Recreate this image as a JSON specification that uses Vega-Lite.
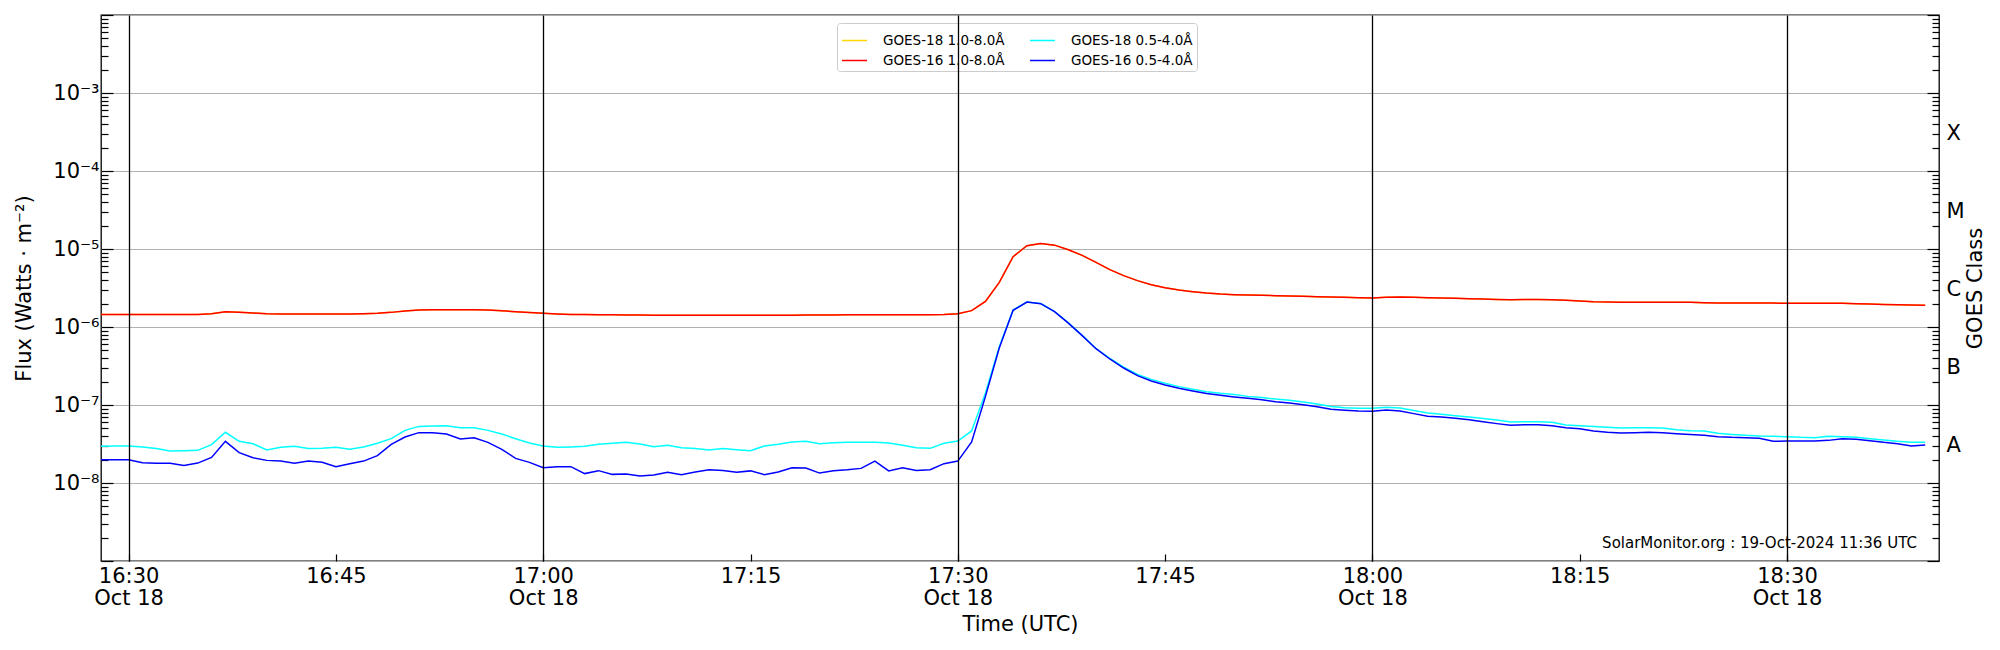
{
"$schema": "https://vega.github.io/schema/vega-lite/v6.json",
"width": 1838,
"height": 546,
"autosize": {"type": "none"},
"padding": {"left": 101, "top": 15, "right": 61, "bottom": 89},
"background": "white",
"config": {
  "font": "DejaVu Sans",
  "view": {"stroke": "black", "strokeWidth": 1.3},
  "axis": {"labelFont": "DejaVu Sans", "titleFont": "DejaVu Sans", "labelFontSize": 21, "titleFontSize": 21, "titleFontWeight": "normal", "labelColor": "black", "titleColor": "black", "domain": false, "tickColor": "black", "tickWidth": 1.2}
},
"datasets": {
"goes": [
{"t":"2024-10-18T16:28:00Z","g18l":1.45e-6,"g16l":1.45e-6,"g18s":2.95e-8,"g16s":1.99e-8},
{"t":"2024-10-18T16:29:00Z","g18l":1.45e-6,"g16l":1.45e-6,"g18s":2.98e-8,"g16s":1.99e-8},
{"t":"2024-10-18T16:30:00Z","g18l":1.45e-6,"g16l":1.45e-6,"g18s":2.98e-8,"g16s":1.99e-8},
{"t":"2024-10-18T16:31:00Z","g18l":1.45e-6,"g16l":1.45e-6,"g18s":2.90e-8,"g16s":1.82e-8},
{"t":"2024-10-18T16:32:00Z","g18l":1.45e-6,"g16l":1.45e-6,"g18s":2.76e-8,"g16s":1.79e-8},
{"t":"2024-10-18T16:33:00Z","g18l":1.45e-6,"g16l":1.45e-6,"g18s":2.57e-8,"g16s":1.79e-8},
{"t":"2024-10-18T16:34:00Z","g18l":1.45e-6,"g16l":1.45e-6,"g18s":2.60e-8,"g16s":1.68e-8},
{"t":"2024-10-18T16:35:00Z","g18l":1.45e-6,"g16l":1.45e-6,"g18s":2.62e-8,"g16s":1.80e-8},
{"t":"2024-10-18T16:36:00Z","g18l":1.48e-6,"g16l":1.48e-6,"g18s":3.10e-8,"g16s":2.13e-8},
{"t":"2024-10-18T16:37:00Z","g18l":1.57e-6,"g16l":1.57e-6,"g18s":4.47e-8,"g16s":3.42e-8},
{"t":"2024-10-18T16:38:00Z","g18l":1.54e-6,"g16l":1.54e-6,"g18s":3.42e-8,"g16s":2.45e-8},
{"t":"2024-10-18T16:39:00Z","g18l":1.51e-6,"g16l":1.51e-6,"g18s":3.19e-8,"g16s":2.11e-8},
{"t":"2024-10-18T16:40:00Z","g18l":1.48e-6,"g16l":1.48e-6,"g18s":2.65e-8,"g16s":1.95e-8},
{"t":"2024-10-18T16:41:00Z","g18l":1.47e-6,"g16l":1.47e-6,"g18s":2.87e-8,"g16s":1.91e-8},
{"t":"2024-10-18T16:42:00Z","g18l":1.47e-6,"g16l":1.47e-6,"g18s":2.95e-8,"g16s":1.79e-8},
{"t":"2024-10-18T16:43:00Z","g18l":1.47e-6,"g16l":1.47e-6,"g18s":2.76e-8,"g16s":1.91e-8},
{"t":"2024-10-18T16:44:00Z","g18l":1.47e-6,"g16l":1.47e-6,"g18s":2.78e-8,"g16s":1.84e-8},
{"t":"2024-10-18T16:45:00Z","g18l":1.47e-6,"g16l":1.47e-6,"g18s":2.87e-8,"g16s":1.62e-8},
{"t":"2024-10-18T16:46:00Z","g18l":1.47e-6,"g16l":1.47e-6,"g18s":2.70e-8,"g16s":1.77e-8},
{"t":"2024-10-18T16:47:00Z","g18l":1.48e-6,"g16l":1.48e-6,"g18s":2.90e-8,"g16s":1.91e-8},
{"t":"2024-10-18T16:48:00Z","g18l":1.50e-6,"g16l":1.50e-6,"g18s":3.23e-8,"g16s":2.24e-8},
{"t":"2024-10-18T16:49:00Z","g18l":1.54e-6,"g16l":1.54e-6,"g18s":3.70e-8,"g16s":3.13e-8},
{"t":"2024-10-18T16:50:00Z","g18l":1.60e-6,"g16l":1.60e-6,"g18s":4.73e-8,"g16s":3.89e-8},
{"t":"2024-10-18T16:51:00Z","g18l":1.65e-6,"g16l":1.65e-6,"g18s":5.32e-8,"g16s":4.42e-8},
{"t":"2024-10-18T16:52:00Z","g18l":1.67e-6,"g16l":1.67e-6,"g18s":5.38e-8,"g16s":4.42e-8},
{"t":"2024-10-18T16:53:00Z","g18l":1.67e-6,"g16l":1.67e-6,"g18s":5.43e-8,"g16s":4.25e-8},
{"t":"2024-10-18T16:54:00Z","g18l":1.67e-6,"g16l":1.67e-6,"g18s":5.12e-8,"g16s":3.66e-8},
{"t":"2024-10-18T16:55:00Z","g18l":1.67e-6,"g16l":1.67e-6,"g18s":5.12e-8,"g16s":3.81e-8},
{"t":"2024-10-18T16:56:00Z","g18l":1.65e-6,"g16l":1.65e-6,"g18s":4.73e-8,"g16s":3.32e-8},
{"t":"2024-10-18T16:57:00Z","g18l":1.62e-6,"g16l":1.62e-6,"g18s":4.25e-8,"g16s":2.70e-8},
{"t":"2024-10-18T16:58:00Z","g18l":1.57e-6,"g16l":1.57e-6,"g18s":3.70e-8,"g16s":2.07e-8},
{"t":"2024-10-18T16:59:00Z","g18l":1.53e-6,"g16l":1.53e-6,"g18s":3.26e-8,"g16s":1.84e-8},
{"t":"2024-10-18T17:00:00Z","g18l":1.50e-6,"g16l":1.50e-6,"g18s":2.98e-8,"g16s":1.57e-8},
{"t":"2024-10-18T17:01:00Z","g18l":1.47e-6,"g16l":1.47e-6,"g18s":2.87e-8,"g16s":1.62e-8},
{"t":"2024-10-18T17:02:00Z","g18l":1.45e-6,"g16l":1.45e-6,"g18s":2.90e-8,"g16s":1.62e-8},
{"t":"2024-10-18T17:03:00Z","g18l":1.45e-6,"g16l":1.45e-6,"g18s":2.95e-8,"g16s":1.32e-8},
{"t":"2024-10-18T17:04:00Z","g18l":1.44e-6,"g16l":1.44e-6,"g18s":3.13e-8,"g16s":1.44e-8},
{"t":"2024-10-18T17:05:00Z","g18l":1.44e-6,"g16l":1.44e-6,"g18s":3.23e-8,"g16s":1.29e-8},
{"t":"2024-10-18T17:06:00Z","g18l":1.43e-6,"g16l":1.43e-6,"g18s":3.32e-8,"g16s":1.30e-8},
{"t":"2024-10-18T17:07:00Z","g18l":1.43e-6,"g16l":1.43e-6,"g18s":3.16e-8,"g16s":1.23e-8},
{"t":"2024-10-18T17:08:00Z","g18l":1.41e-6,"g16l":1.41e-6,"g18s":2.92e-8,"g16s":1.27e-8},
{"t":"2024-10-18T17:09:00Z","g18l":1.41e-6,"g16l":1.41e-6,"g18s":3.04e-8,"g16s":1.37e-8},
{"t":"2024-10-18T17:10:00Z","g18l":1.41e-6,"g16l":1.41e-6,"g18s":2.84e-8,"g16s":1.28e-8},
{"t":"2024-10-18T17:11:00Z","g18l":1.41e-6,"g16l":1.41e-6,"g18s":2.76e-8,"g16s":1.38e-8},
{"t":"2024-10-18T17:12:00Z","g18l":1.41e-6,"g16l":1.41e-6,"g18s":2.65e-8,"g16s":1.48e-8},
{"t":"2024-10-18T17:13:00Z","g18l":1.41e-6,"g16l":1.41e-6,"g18s":2.76e-8,"g16s":1.45e-8},
{"t":"2024-10-18T17:14:00Z","g18l":1.41e-6,"g16l":1.41e-6,"g18s":2.67e-8,"g16s":1.37e-8},
{"t":"2024-10-18T17:15:00Z","g18l":1.41e-6,"g16l":1.41e-6,"g18s":2.60e-8,"g16s":1.43e-8},
{"t":"2024-10-18T17:16:00Z","g18l":1.41e-6,"g16l":1.41e-6,"g18s":2.98e-8,"g16s":1.28e-8},
{"t":"2024-10-18T17:17:00Z","g18l":1.41e-6,"g16l":1.41e-6,"g18s":3.13e-8,"g16s":1.38e-8},
{"t":"2024-10-18T17:18:00Z","g18l":1.41e-6,"g16l":1.41e-6,"g18s":3.36e-8,"g16s":1.57e-8},
{"t":"2024-10-18T17:19:00Z","g18l":1.42e-6,"g16l":1.42e-6,"g18s":3.42e-8,"g16s":1.56e-8},
{"t":"2024-10-18T17:20:00Z","g18l":1.43e-6,"g16l":1.43e-6,"g18s":3.19e-8,"g16s":1.34e-8},
{"t":"2024-10-18T17:21:00Z","g18l":1.43e-6,"g16l":1.43e-6,"g18s":3.29e-8,"g16s":1.44e-8},
{"t":"2024-10-18T17:22:00Z","g18l":1.44e-6,"g16l":1.44e-6,"g18s":3.32e-8,"g16s":1.48e-8},
{"t":"2024-10-18T17:23:00Z","g18l":1.44e-6,"g16l":1.44e-6,"g18s":3.32e-8,"g16s":1.54e-8},
{"t":"2024-10-18T17:24:00Z","g18l":1.44e-6,"g16l":1.44e-6,"g18s":3.32e-8,"g16s":1.91e-8},
{"t":"2024-10-18T17:25:00Z","g18l":1.44e-6,"g16l":1.44e-6,"g18s":3.26e-8,"g16s":1.43e-8},
{"t":"2024-10-18T17:26:00Z","g18l":1.44e-6,"g16l":1.44e-6,"g18s":3.04e-8,"g16s":1.57e-8},
{"t":"2024-10-18T17:27:00Z","g18l":1.44e-6,"g16l":1.44e-6,"g18s":2.84e-8,"g16s":1.45e-8},
{"t":"2024-10-18T17:28:00Z","g18l":1.44e-6,"g16l":1.44e-6,"g18s":2.78e-8,"g16s":1.48e-8},
{"t":"2024-10-18T17:29:00Z","g18l":1.45e-6,"g16l":1.45e-6,"g18s":3.23e-8,"g16s":1.77e-8},
{"t":"2024-10-18T17:30:00Z","g18l":1.48e-6,"g16l":1.48e-6,"g18s":3.45e-8,"g16s":1.91e-8},
{"t":"2024-10-18T17:31:00Z","g18l":1.62e-6,"g16l":1.62e-6,"g18s":4.65e-8,"g16s":3.36e-8},
{"t":"2024-10-18T17:32:00Z","g18l":2.13e-6,"g16l":2.13e-6,"g18s":1.43e-7,"g16s":1.29e-7},
{"t":"2024-10-18T17:33:00Z","g18l":3.74e-6,"g16l":3.74e-6,"g18s":5.6e-7,"g16s":5.38e-7},
{"t":"2024-10-18T17:34:00Z","g18l":7.97e-6,"g16l":7.97e-6,"g18s":1.65e-6,"g16s":1.64e-6},
{"t":"2024-10-18T17:35:00Z","g18l":1.10e-5,"g16l":1.10e-5,"g18s":2.09e-6,"g16s":2.09e-6},
{"t":"2024-10-18T17:36:00Z","g18l":1.18e-5,"g16l":1.18e-5,"g18s":2.0e-6,"g16s":1.99e-6},
{"t":"2024-10-18T17:37:00Z","g18l":1.12e-5,"g16l":1.12e-5,"g18s":1.58e-6,"g16s":1.57e-6},
{"t":"2024-10-18T17:38:00Z","g18l":9.8e-6,"g16l":9.8e-6,"g18s":1.13e-6,"g16s":1.12e-6},
{"t":"2024-10-18T17:39:00Z","g18l":8.30e-6,"g16l":8.30e-6,"g18s":7.8e-7,"g16s":7.74e-7},
{"t":"2024-10-18T17:40:00Z","g18l":6.75e-6,"g16l":6.75e-6,"g18s":5.3e-7,"g16s":5.27e-7},
{"t":"2024-10-18T17:41:00Z","g18l":5.43e-6,"g16l":5.43e-6,"g18s":3.95e-7,"g16s":3.89e-7},
{"t":"2024-10-18T17:42:00Z","g18l":4.55e-6,"g16l":4.55e-6,"g18s":3.05e-7,"g16s":2.98e-7},
{"t":"2024-10-18T17:43:00Z","g18l":3.93e-6,"g16l":3.93e-6,"g18s":2.47e-7,"g16s":2.38e-7},
{"t":"2024-10-18T17:44:00Z","g18l":3.49e-6,"g16l":3.49e-6,"g18s":2.13e-7,"g16s":2.03e-7},
{"t":"2024-10-18T17:45:00Z","g18l":3.19e-6,"g16l":3.19e-6,"g18s":1.90e-7,"g16s":1.80e-7},
{"t":"2024-10-18T17:46:00Z","g18l":2.98e-6,"g16l":2.98e-6,"g18s":1.72e-7,"g16s":1.64e-7},
{"t":"2024-10-18T17:47:00Z","g18l":2.84e-6,"g16l":2.84e-6,"g18s":1.59e-7,"g16s":1.51e-7},
{"t":"2024-10-18T17:48:00Z","g18l":2.73e-6,"g16l":2.73e-6,"g18s":1.48e-7,"g16s":1.40e-7},
{"t":"2024-10-18T17:49:00Z","g18l":2.65e-6,"g16l":2.65e-6,"g18s":1.41e-7,"g16s":1.33e-7},
{"t":"2024-10-18T17:50:00Z","g18l":2.60e-6,"g16l":2.60e-6,"g18s":1.36e-7,"g16s":1.27e-7},
{"t":"2024-10-18T17:51:00Z","g18l":2.57e-6,"g16l":2.57e-6,"g18s":1.29e-7,"g16s":1.22e-7},
{"t":"2024-10-18T17:52:00Z","g18l":2.55e-6,"g16l":2.55e-6,"g18s":1.25e-7,"g16s":1.17e-7},
{"t":"2024-10-18T17:53:00Z","g18l":2.52e-6,"g16l":2.52e-6,"g18s":1.19e-7,"g16s":1.10e-7},
{"t":"2024-10-18T17:54:00Z","g18l":2.50e-6,"g16l":2.50e-6,"g18s":1.15e-7,"g16s":1.06e-7},
{"t":"2024-10-18T17:55:00Z","g18l":2.47e-6,"g16l":2.47e-6,"g18s":1.09e-7,"g16s":1.01e-7},
{"t":"2024-10-18T17:56:00Z","g18l":2.45e-6,"g16l":2.45e-6,"g18s":1.03e-7,"g16s":9.5e-8},
{"t":"2024-10-18T17:57:00Z","g18l":2.42e-6,"g16l":2.42e-6,"g18s":9.6e-8,"g16s":8.8e-8},
{"t":"2024-10-18T17:58:00Z","g18l":2.40e-6,"g16l":2.40e-6,"g18s":9.25e-8,"g16s":8.55e-8},
{"t":"2024-10-18T17:59:00Z","g18l":2.38e-6,"g16l":2.38e-6,"g18s":9.06e-8,"g16s":8.38e-8},
{"t":"2024-10-18T18:00:00Z","g18l":2.36e-6,"g16l":2.36e-6,"g18s":9.06e-8,"g16s":8.30e-8},
{"t":"2024-10-18T18:01:00Z","g18l":2.40e-6,"g16l":2.40e-6,"g18s":9.33e-8,"g16s":8.63e-8},
{"t":"2024-10-18T18:02:00Z","g18l":2.42e-6,"g16l":2.42e-6,"g18s":9.15e-8,"g16s":8.38e-8},
{"t":"2024-10-18T18:03:00Z","g18l":2.40e-6,"g16l":2.40e-6,"g18s":8.5e-8,"g16s":7.75e-8},
{"t":"2024-10-18T18:04:00Z","g18l":2.38e-6,"g16l":2.38e-6,"g18s":7.9e-8,"g16s":7.16e-8},
{"t":"2024-10-18T18:05:00Z","g18l":2.35e-6,"g16l":2.35e-6,"g18s":7.6e-8,"g16s":7.02e-8},
{"t":"2024-10-18T18:06:00Z","g18l":2.33e-6,"g16l":2.33e-6,"g18s":7.3e-8,"g16s":6.75e-8},
{"t":"2024-10-18T18:07:00Z","g18l":2.31e-6,"g16l":2.31e-6,"g18s":7.0e-8,"g16s":6.49e-8},
{"t":"2024-10-18T18:08:00Z","g18l":2.29e-6,"g16l":2.29e-6,"g18s":6.7e-8,"g16s":6.1e-8},
{"t":"2024-10-18T18:09:00Z","g18l":2.26e-6,"g16l":2.26e-6,"g18s":6.4e-8,"g16s":5.77e-8},
{"t":"2024-10-18T18:10:00Z","g18l":2.24e-6,"g16l":2.24e-6,"g18s":6.05e-8,"g16s":5.49e-8},
{"t":"2024-10-18T18:11:00Z","g18l":2.26e-6,"g16l":2.26e-6,"g18s":6.1e-8,"g16s":5.6e-8},
{"t":"2024-10-18T18:12:00Z","g18l":2.26e-6,"g16l":2.26e-6,"g18s":6.1e-8,"g16s":5.6e-8},
{"t":"2024-10-18T18:13:00Z","g18l":2.24e-6,"g16l":2.24e-6,"g18s":6.0e-8,"g16s":5.43e-8},
{"t":"2024-10-18T18:14:00Z","g18l":2.20e-6,"g16l":2.20e-6,"g18s":5.55e-8,"g16s":5.12e-8},
{"t":"2024-10-18T18:15:00Z","g18l":2.15e-6,"g16l":2.15e-6,"g18s":5.4e-8,"g16s":4.97e-8},
{"t":"2024-10-18T18:16:00Z","g18l":2.11e-6,"g16l":2.11e-6,"g18s":5.3e-8,"g16s":4.65e-8},
{"t":"2024-10-18T18:17:00Z","g18l":2.09e-6,"g16l":2.09e-6,"g18s":5.17e-8,"g16s":4.47e-8},
{"t":"2024-10-18T18:18:00Z","g18l":2.08e-6,"g16l":2.08e-6,"g18s":5.07e-8,"g16s":4.38e-8},
{"t":"2024-10-18T18:19:00Z","g18l":2.08e-6,"g16l":2.08e-6,"g18s":5.12e-8,"g16s":4.42e-8},
{"t":"2024-10-18T18:20:00Z","g18l":2.08e-6,"g16l":2.08e-6,"g18s":5.12e-8,"g16s":4.47e-8},
{"t":"2024-10-18T18:21:00Z","g18l":2.08e-6,"g16l":2.08e-6,"g18s":5.07e-8,"g16s":4.42e-8},
{"t":"2024-10-18T18:22:00Z","g18l":2.08e-6,"g16l":2.08e-6,"g18s":4.83e-8,"g16s":4.29e-8},
{"t":"2024-10-18T18:23:00Z","g18l":2.08e-6,"g16l":2.08e-6,"g18s":4.69e-8,"g16s":4.2e-8},
{"t":"2024-10-18T18:24:00Z","g18l":2.05e-6,"g16l":2.05e-6,"g18s":4.65e-8,"g16s":4.08e-8},
{"t":"2024-10-18T18:25:00Z","g18l":2.03e-6,"g16l":2.03e-6,"g18s":4.33e-8,"g16s":3.93e-8},
{"t":"2024-10-18T18:26:00Z","g18l":2.03e-6,"g16l":2.03e-6,"g18s":4.2e-8,"g16s":3.85e-8},
{"t":"2024-10-18T18:27:00Z","g18l":2.03e-6,"g16l":2.03e-6,"g18s":4.08e-8,"g16s":3.81e-8},
{"t":"2024-10-18T18:28:00Z","g18l":2.03e-6,"g16l":2.03e-6,"g18s":4.0e-8,"g16s":3.74e-8},
{"t":"2024-10-18T18:29:00Z","g18l":2.03e-6,"g16l":2.03e-6,"g18s":3.97e-8,"g16s":3.42e-8},
{"t":"2024-10-18T18:30:00Z","g18l":2.01e-6,"g16l":2.01e-6,"g18s":3.93e-8,"g16s":3.45e-8},
{"t":"2024-10-18T18:31:00Z","g18l":2.01e-6,"g16l":2.01e-6,"g18s":3.85e-8,"g16s":3.45e-8},
{"t":"2024-10-18T18:32:00Z","g18l":2.01e-6,"g16l":2.01e-6,"g18s":3.81e-8,"g16s":3.45e-8},
{"t":"2024-10-18T18:33:00Z","g18l":2.01e-6,"g16l":2.01e-6,"g18s":3.97e-8,"g16s":3.52e-8},
{"t":"2024-10-18T18:34:00Z","g18l":2.01e-6,"g16l":2.01e-6,"g18s":3.93e-8,"g16s":3.7e-8},
{"t":"2024-10-18T18:35:00Z","g18l":1.99e-6,"g16l":1.99e-6,"g18s":3.85e-8,"g16s":3.63e-8},
{"t":"2024-10-18T18:36:00Z","g18l":1.97e-6,"g16l":1.97e-6,"g18s":3.7e-8,"g16s":3.49e-8},
{"t":"2024-10-18T18:37:00Z","g18l":1.95e-6,"g16l":1.95e-6,"g18s":3.56e-8,"g16s":3.32e-8},
{"t":"2024-10-18T18:38:00Z","g18l":1.93e-6,"g16l":1.93e-6,"g18s":3.42e-8,"g16s":3.19e-8},
{"t":"2024-10-18T18:39:00Z","g18l":1.92e-6,"g16l":1.92e-6,"g18s":3.32e-8,"g16s":2.98e-8},
{"t":"2024-10-18T18:40:00Z","g18l":1.90e-6,"g16l":1.90e-6,"g18s":3.32e-8,"g16s":3.07e-8}
],
"note": [
{"t":"2024-10-18T18:39:24Z","f":1.7e-9,"label":"SolarMonitor.org : 19-Oct-2024 11:36 UTC"}
]
},
"data": {"name": "goes"},
"encoding": {
  "x": {
    "field": "t", "type": "temporal",
    "scale": {"type": "utc", "domain": [{"year":2024,"month":10,"date":18,"hours":16,"minutes":28,"utc":true},{"year":2024,"month":10,"date":18,"hours":18,"minutes":41,"utc":true}]},
    "axis": {
      "title": "Time (UTC)",
      "titleX": 919, "titleY": 63, "titleAlign": "center", "titleBaseline": "middle", "titleAngle": 0,
      "values": [
        {"year":2024,"month":10,"date":18,"hours":16,"minutes":30,"utc":true},
        {"year":2024,"month":10,"date":18,"hours":16,"minutes":45,"utc":true},
        {"year":2024,"month":10,"date":18,"hours":17,"minutes":0,"utc":true},
        {"year":2024,"month":10,"date":18,"hours":17,"minutes":15,"utc":true},
        {"year":2024,"month":10,"date":18,"hours":17,"minutes":30,"utc":true},
        {"year":2024,"month":10,"date":18,"hours":17,"minutes":45,"utc":true},
        {"year":2024,"month":10,"date":18,"hours":18,"minutes":0,"utc":true},
        {"year":2024,"month":10,"date":18,"hours":18,"minutes":15,"utc":true},
        {"year":2024,"month":10,"date":18,"hours":18,"minutes":30,"utc":true}
      ],
      "labelExpr": "utcminutes(datum.value) % 30 == 0 ? [utcFormat(datum.value, '%H:%M'), utcFormat(datum.value, '%b %d')] : utcFormat(datum.value, '%H:%M')",
      "labelBaseline": "top", "labelLineHeight": 22, "labelPadding": 11,
      "labelOverlap": false, "labelFlush": false,
      "tickSize": -7,
      "grid": true, "gridColor": "black", "gridWidth": 1.3,
      "gridOpacity": {"condition": {"test": "utcminutes(datum.value) % 30 == 0", "value": 1}, "value": 0},
      "zindex": 1
    }
  }
},
"layer": [
  {
    "mark": {"type": "line", "strokeWidth": 1.5},
    "encoding": {
      "y": {
        "field": "g18l", "type": "quantitative",
        "scale": {"type": "log", "domain": [1e-9, 1e-2], "nice": false},
        "axis": {
          "orient": "left",
          "title": "Flux (Watts · m⁻²)",
          "titleX": -77, "titleY": 273, "titleAngle": -90, "titleAlign": "center", "titleBaseline": "middle",
          "values": [1e-9,2e-9,3e-9,4e-9,5e-9,6e-9,7e-9,8e-9,9e-9,1e-8,2e-8,3e-8,4e-8,5e-8,6e-8,7e-8,8e-8,9e-8,1e-7,2e-7,3e-7,4e-7,5e-7,6e-7,7e-7,8e-7,9e-7,1e-6,2e-6,3e-6,4e-6,5e-6,6e-6,7e-6,8e-6,9e-6,1e-5,2e-5,3e-5,4e-5,5e-5,6e-5,7e-5,8e-5,9e-5,1e-4,2e-4,3e-4,4e-4,5e-4,6e-4,7e-4,8e-4,9e-4,1e-3,2e-3,3e-3,4e-3,5e-3,6e-3,7e-3,8e-3,9e-3,1e-2],
          "labelExpr": "(abs(log(datum.value)/LN10 - round(log(datum.value)/LN10)) < 0.001 && round(log(datum.value)/LN10) >= -8 && round(log(datum.value)/LN10) <= -3) ? '10⁻' + ['⁰','¹','²','³','⁴','⁵','⁶','⁷','⁸','⁹'][-round(log(datum.value)/LN10)] : ''",
          "labelBaseline": "middle", "labelPadding": 14,
          "labelOverlap": false, "labelFlush": false,
          "tickSize": {"condition": {"test": "abs(log(datum.value)/LN10 - round(log(datum.value)/LN10)) < 0.001", "value": -12}, "value": -7},
          "grid": true, "gridColor": "#b0b0b0", "gridWidth": 1.2,
          "gridOpacity": {"condition": {"test": "abs(log(datum.value)/LN10 - round(log(datum.value)/LN10)) < 0.001", "value": 1}, "value": 0},
          "zindex": 0
        }
      },
      "color": {
        "datum": "GOES-18 1.0-8.0Å", "type": "nominal",
        "scale": {"domain": ["GOES-18 1.0-8.0Å","GOES-18 0.5-4.0Å","GOES-16 1.0-8.0Å","GOES-16 0.5-4.0Å"], "range": ["#ffd700","#00ffff","#ff0000","#0000ff"]},
        "legend": {
          "orient": "none", "legendX": 736, "legendY": 8, "columns": 2, "direction": "horizontal", "title": null,
          "symbolType": "stroke", "symbolSize": 625, "symbolStrokeWidth": 1.5,
          "labelFont": "DejaVu Sans", "labelFontSize": 13.5, "labelColor": "black", "labelLimit": 400, "labelOffset": 15,
          "padding": 4, "strokeColor": "#cccccc", "fillColor": "white", "cornerRadius": 3,
          "columnPadding": 22, "rowPadding": 0
        }
      }
    }
  },
  {
    "mark": {"type": "line", "strokeWidth": 1.5},
    "encoding": {
      "y": {"field": "g16l", "type": "quantitative", "scale": {"type": "log", "domain": [1e-9, 1e-2], "nice": false}, "axis": null},
      "color": {"datum": "GOES-16 1.0-8.0Å", "type": "nominal", "scale": {"domain": ["GOES-18 1.0-8.0Å","GOES-18 0.5-4.0Å","GOES-16 1.0-8.0Å","GOES-16 0.5-4.0Å"], "range": ["#ffd700","#00ffff","#ff0000","#0000ff"]}}
    }
  },
  {
    "mark": {"type": "line", "strokeWidth": 1.5},
    "encoding": {
      "y": {"field": "g18s", "type": "quantitative", "scale": {"type": "log", "domain": [1e-9, 1e-2], "nice": false}, "axis": null},
      "color": {"datum": "GOES-18 0.5-4.0Å", "type": "nominal", "scale": {"domain": ["GOES-18 1.0-8.0Å","GOES-18 0.5-4.0Å","GOES-16 1.0-8.0Å","GOES-16 0.5-4.0Å"], "range": ["#ffd700","#00ffff","#ff0000","#0000ff"]}}
    }
  },
  {
    "mark": {"type": "line", "strokeWidth": 1.5},
    "encoding": {
      "y": {
        "field": "g16s", "type": "quantitative",
        "scale": {"type": "log", "domain": [1e-9, 1e-2], "nice": false},
        "axis": {
          "orient": "right",
          "title": "GOES Class",
          "titleX": 36, "titleY": 273, "titleAngle": -90, "titleAlign": "center", "titleBaseline": "middle",
          "values": [1e-9,2e-9,3e-9,4e-9,5e-9,6e-9,7e-9,8e-9,9e-9,1e-8,2e-8,3e-8,4e-8,5e-8,6e-8,7e-8,8e-8,9e-8,1e-7,2e-7,3e-7,4e-7,5e-7,6e-7,7e-7,8e-7,9e-7,1e-6,2e-6,3e-6,4e-6,5e-6,6e-6,7e-6,8e-6,9e-6,1e-5,2e-5,3e-5,4e-5,5e-5,6e-5,7e-5,8e-5,9e-5,1e-4,2e-4,3e-4,4e-4,5e-4,6e-4,7e-4,8e-4,9e-4,1e-3,2e-3,3e-3,4e-3,5e-3,6e-3,7e-3,8e-3,9e-3,1e-2],
          "labelExpr": "abs(datum.value / pow(10, floor(log(datum.value)/LN10 + 0.000001)) - 3) < 0.01 ? ['A','B','C','M','X','',''][floor(log(datum.value)/LN10 + 0.000001) + 8] : ''",
          "labelBaseline": "middle", "labelPadding": 14,
          "labelOverlap": false, "labelFlush": false,
          "tickSize": {"condition": {"test": "abs(log(datum.value)/LN10 - round(log(datum.value)/LN10)) < 0.001", "value": -12}, "value": -7},
          "grid": false
        }
      },
      "color": {"datum": "GOES-16 0.5-4.0Å", "type": "nominal", "scale": {"domain": ["GOES-18 1.0-8.0Å","GOES-18 0.5-4.0Å","GOES-16 1.0-8.0Å","GOES-16 0.5-4.0Å"], "range": ["#ffd700","#00ffff","#ff0000","#0000ff"]}}
    }
  },
  {
    "data": {"name": "note"},
    "mark": {"type": "text", "align": "right", "baseline": "middle", "fontSize": 15, "font": "DejaVu Sans", "color": "black"},
    "encoding": {
      "y": {"field": "f", "type": "quantitative", "scale": {"type": "log", "domain": [1e-9, 1e-2], "nice": false}, "axis": null},
      "text": {"field": "label"}
    }
  }
],
"resolve": {"axis": {"y": "independent"}}
}
